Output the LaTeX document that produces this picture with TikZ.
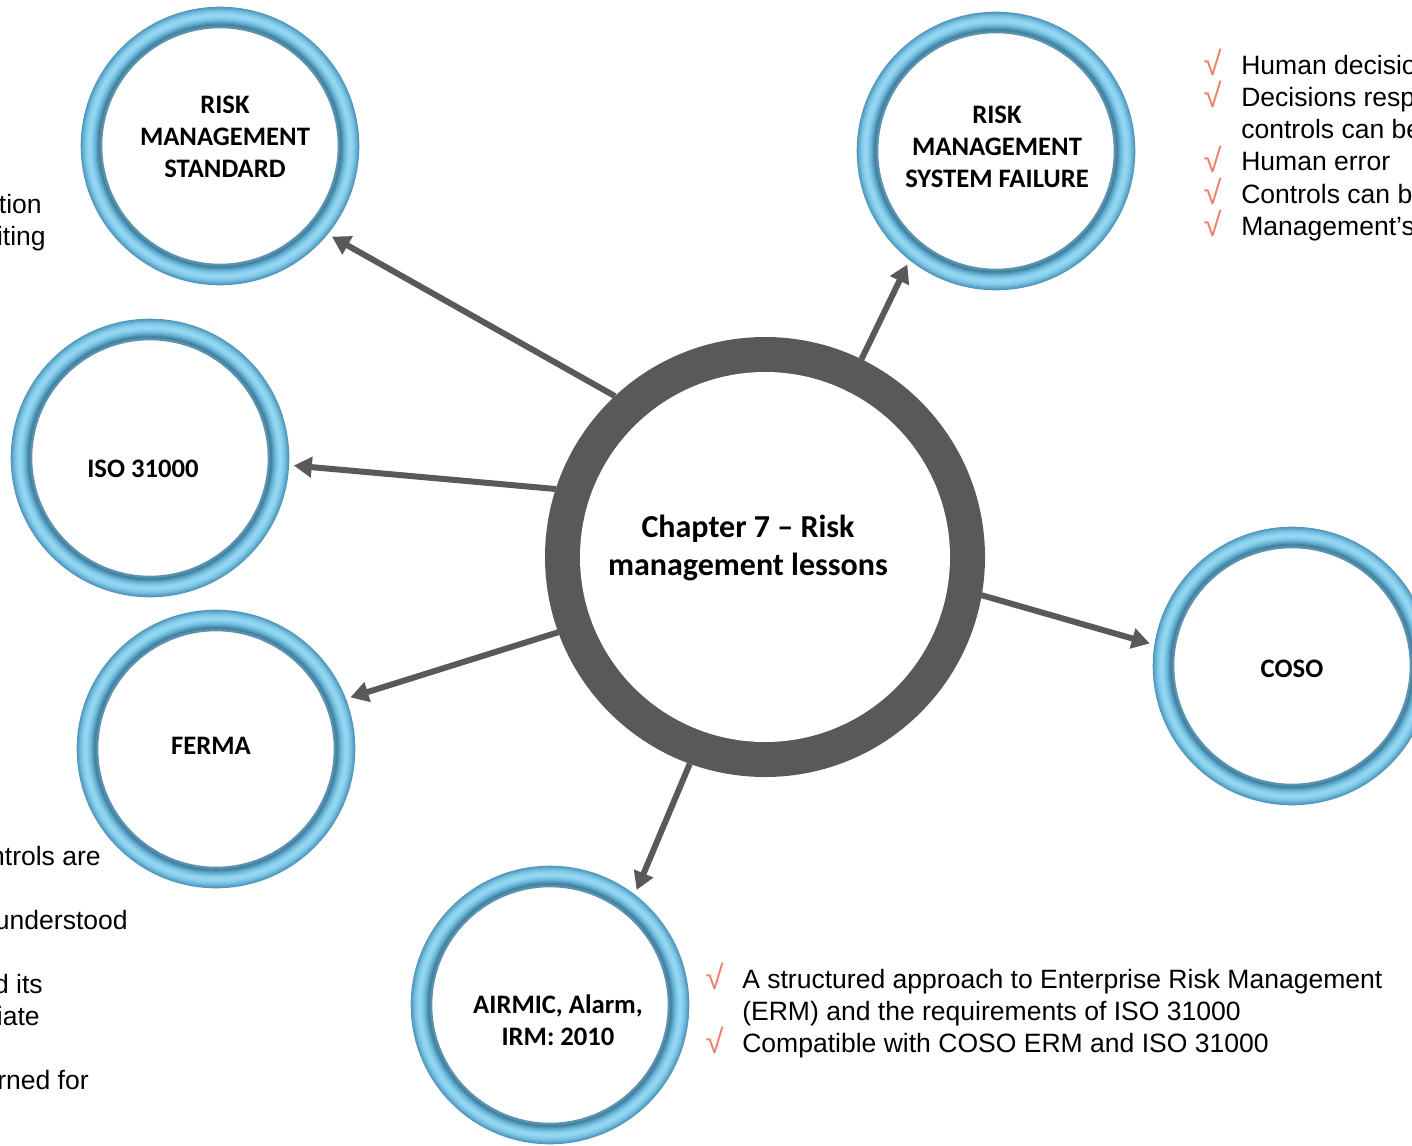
\documentclass[tikz,border=0pt]{standalone}
\usepackage{fontspec}
\setmainfont{Liberation Sans}
\newfontfamily\calfont{Carlito}
\usetikzlibrary{arrows.meta}
\definecolor{arrowgray}{HTML}{595959}
\definecolor{checkc}{HTML}{F07F6A}
\begin{document}
\begin{tikzpicture}[x=0.75pt,y=-0.75pt,
  ringnode/.style={circle, minimum size=216pt, inner sep=0pt, outer sep=0pt},
  lbl/.style={font=\calfont\bfseries\fontsize{20}{24}\selectfont, align=center, text=black, inner sep=0pt},
  centerlbl/.style={font=\calfont\bfseries\fontsize{24}{28.5}\selectfont, align=center, text=black, inner sep=0pt},
  conn/.style={draw=arrowgray, line width=4.5pt, -{Triangle[length=13.5pt,width=15pt]}},
  txt/.style={font=\fontsize{19.9}{24}\selectfont, text=black, inner sep=0pt},
  chk/.style={font=\fontsize{25}{24}\selectfont, text=checkc, inner sep=0pt, anchor=base west}
]
\useasboundingbox (0,0) rectangle (1412,1145);

% ring placeholders
\node[ringnode] (rms) at (220,146) {};
\node[ringnode] (rmsf) at (996,151) {};
\node[ringnode] (iso) at (150,458) {};
\node[ringnode] (ferma) at (216,749) {};
\node[ringnode] (coso) at (1292,666) {};
\node[ringnode] (airmic) at (550,1005) {};

% tube-like rings drawn as overlapping concentric bands
\foreach \n in {rms,rmsf,iso,ferma,coso,airmic}{
  \foreach \r/\c in {138.3/4F95B8,137.5/589FC3,136.5/62AACD,135.5/6DB6D8,134.5/78C2E2,133.5/80C8E7,132.5/88CEEC,131.5/90D3F0,130.5/95D7F2,129.5/95D7F2,128.5/92D5F0,127.5/88CFEC,126.5/7EC7E7,125.5/74BEE0,124.5/6AB6D8,123.5/60A7C9,122.5/5599BA,121.5/4A8BAB,120.5/427F9E,119.5/4C88A6,118.7/5A93B0}{
    \definecolor{bandc}{HTML}{\c}
    \draw[bandc, line width=1.5pt] (\n.center) circle (\r);
  }
}

% center
\node[circle, minimum size=330pt, fill=arrowgray, inner sep=0pt, outer sep=0pt] (c) at (765,557) {};
\fill[white] (c.center) circle (185);

% connectors
\draw[conn] (c.133.7) -- (rms.321.6);
\draw[conn] (c.64.5) -- (rmsf.232.3);
\draw[conn] (c.162.2) -- (iso.357.2);
\draw[conn] (c.200.6) -- (ferma.21.2);
\draw[conn] (c.350.3) -- (coso.171.6);
\draw[conn] (c.250.7) -- (airmic.53.9);

% labels
\node[centerlbl] (cT) at (748,548) {Chapter 7 – Risk\\management lessons};
\node[lbl] (rmsT) at (225,137) {RISK\\MANAGEMENT\\STANDARD};
\node[lbl] (rmsfT) at (997,147) {RISK\\MANAGEMENT\\SYSTEM FAILURE};
\node[lbl] (isoT) at (143,469) {ISO 31000};
\node[lbl] (fermaT) at (211,746) {FERMA};
\node[lbl] (cosoT) at (1292,669) {COSO};
\node[lbl] (airmicT) at (558,1020) {AIRMIC, Alarm,\\IRM: 2010};

% right list
\node[chk] (rc1) at (1203,76) {√};
\node[chk] (rc2) at (1203,108) {√};
\node[chk] (rc4) at (1203,172) {√};
\node[chk] (rc5) at (1203,204) {√};
\node[chk] (rc6) at (1203,236) {√};
\node[txt, anchor=base west] (r1) at (1241,75) {Human decisio};
\node[txt, anchor=base west] (r2) at (1241,107) {Decisions resp};
\node[txt, anchor=base west] (r3) at (1241,139) {controls can be};
\node[txt, anchor=base west] (r4) at (1241,171) {Human error};
\node[txt, anchor=base west] (r5) at (1241,203) {Controls can b};
\node[txt, anchor=base west] (r6) at (1241,235) {Management’s};

% bottom list
\node[chk] (bc1) at (705,989) {√};
\node[chk] (bc3) at (705,1053) {√};
\node[txt, anchor=base west] (b1) at (742,988) {A structured approach to Enterprise Risk Management};
\node[txt, anchor=base west] (b2) at (742,1020) {(ERM) and the requirements of ISO 31000};
\node[txt, anchor=base west] (b3) at (742,1052) {Compatible with COSO ERM and ISO 31000};

% left fragments
\node[txt, anchor=base east] (l1) at (42,213) {tion};
\node[txt, anchor=base east] (l2) at (46,245) {iting};
\node[txt, anchor=base east] (l3) at (101,865) {ntrols are};
\node[txt, anchor=base east] (l4) at (128,929) {understood};
\node[txt, anchor=base east] (l5) at (43,993) {d its};
\node[txt, anchor=base east] (l6) at (40,1025) {iate};
\node[txt, anchor=base east] (l7) at (89,1089) {rned for};
\end{tikzpicture}
\end{document}
